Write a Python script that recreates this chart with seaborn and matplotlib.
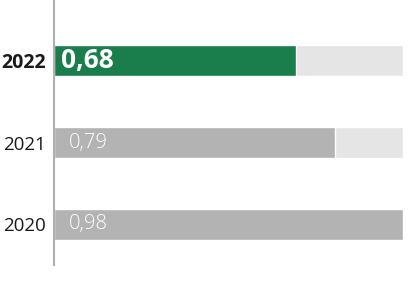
import matplotlib
matplotlib.use("Agg")
import matplotlib.pyplot as plt
import seaborn as sns
import pandas as pd

years = ["2022", "2021", "2020"]
values = [0.68, 0.79, 0.98]
labels = ["0,68", "0,79", "0,98"]
bar_colors = ["#1a7d4c", "#b3b3b3", "#b3b3b3"]
bg_value = max(values)

sns.set_theme(style="white")
plt.rcParams['font.family'] = ['Open Sans', 'DejaVu Sans']

df = pd.DataFrame({"year": years, "value": values, "bg": [bg_value] * len(years)})

fig = plt.figure(figsize=(4.10, 2.86), dpi=100)
ax = fig.add_axes([54 / 410, 21 / 286, 1 - 54 / 410, 265 / 286])

sns.barplot(data=df, y="year", x="bg", orient="h", color="#e6e5e6",
            saturation=1, width=0.38, ax=ax, order=years)
sns.barplot(data=df, y="year", x="value", orient="h", hue="year",
            palette=dict(zip(years, bar_colors)), legend=False, saturation=1,
            width=0.38, ax=ax, order=years)

ax.set_xlim(0, 1.0)
ax.set_ylim(2.494, -0.738)
ax.set_xlabel("")
ax.set_ylabel("")
ax.set_xticks([])
for s in ["top", "right", "bottom"]:
    ax.spines[s].set_visible(False)
ax.spines["left"].set_color("#b0b0b0")
ax.spines["left"].set_linewidth(1.5)
ax.tick_params(axis="y", length=0, pad=5.5)

for i, t in enumerate(ax.get_yticklabels()):
    if i == 0:
        t.set_fontweight("bold")
        t.set_fontsize(14)
    else:
        t.set_fontsize(13.5)
    t.set_color("#1a1a1a")

for i, (v, lab) in enumerate(zip(values, labels)):
    if i == 0:
        ax.text(0.02, i, lab, color="white", fontsize=19, fontweight="bold",
                va="center", ha="left")
    else:
        ax.text(0.042, i, lab, color="white", fontsize=14.5, fontweight="light",
                va="center", ha="left")

fig.savefig("out.png", dpi=100)
